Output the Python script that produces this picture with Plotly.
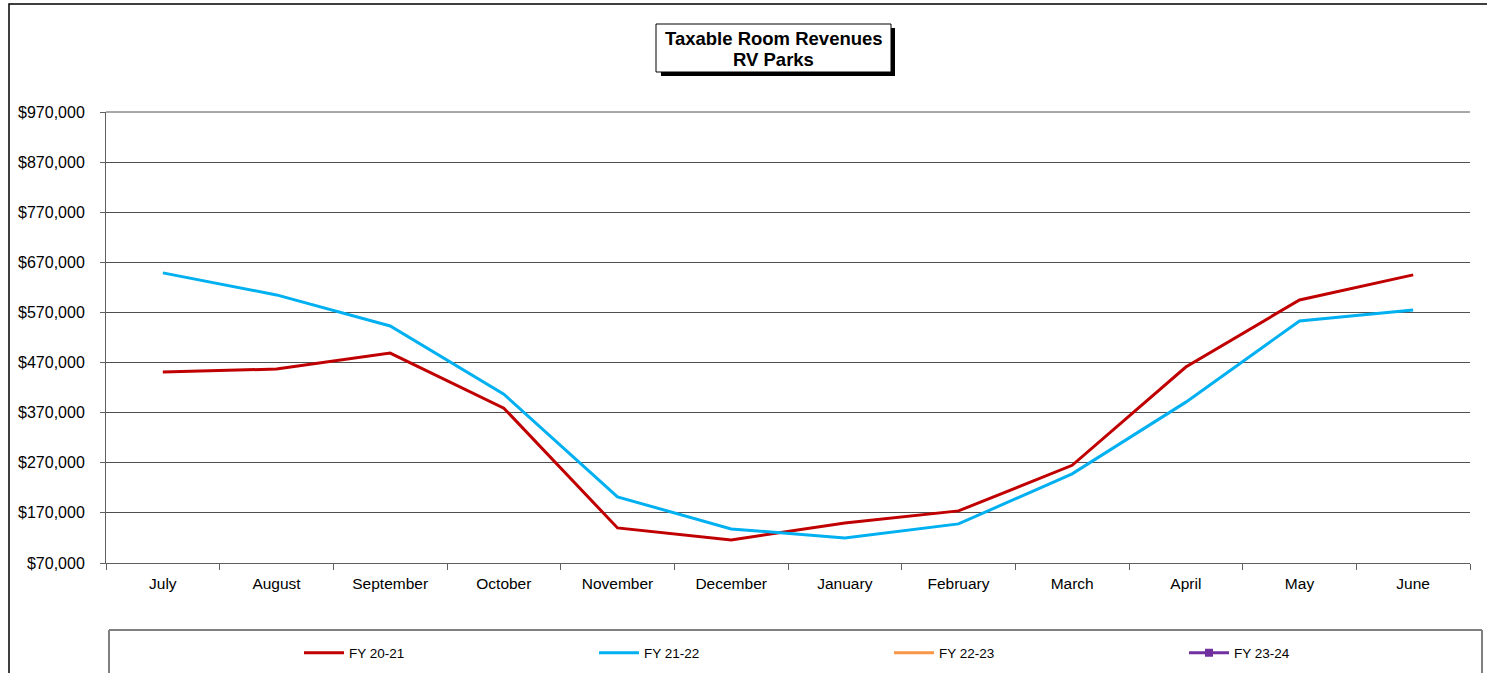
import plotly.graph_objects as go

months = ["July", "August", "September", "October", "November", "December",
          "January", "February", "March", "April", "May", "June"]
fy_20_21 = [451000, 457000, 489000, 379000, 140000, 116000,
            150000, 174000, 265000, 461000, 595000, 645000]
fy_21_22 = [649000, 605000, 543000, 407000, 202000, 138000,
            120000, 148000, 248000, 391000, 553000, 575000]
fy_22_23 = [None] * 12
fy_23_24 = [None] * 12
y_ticks = [70000, 170000, 270000, 370000, 470000, 570000, 670000, 770000, 870000, 970000]
y_tick_labels = ["$70,000", "$170,000", "$270,000", "$370,000", "$470,000",
                 "$570,000", "$670,000", "$770,000", "$870,000", "$970,000"]

W, H = 1487, 673
L, R, T, B = 106, 17, 112, 110
PW, PH = W - L - R, H - T - B

def px(x):
    return (x - L) / PW

def py(y):
    return (H - B - y) / PH

fig = go.Figure()
fig.add_trace(go.Scatter(x=months, y=fy_20_21, name="FY 20-21", mode="lines",
                         line=dict(color="#C00000", width=3)))
fig.add_trace(go.Scatter(x=months, y=fy_21_22, name="FY 21-22", mode="lines",
                         line=dict(color="#00B0F0", width=3)))
fig.add_trace(go.Scatter(x=months, y=fy_22_23, name="FY 22-23", mode="lines",
                         line=dict(color="#F79646", width=3)))
fig.add_trace(go.Scatter(x=months, y=fy_23_24, name="FY 23-24", mode="lines+markers",
                         line=dict(color="#7030A0", width=3),
                         marker=dict(symbol="square", size=8, color="#7030A0")))

shapes = []
# outer chart border
shapes.append(dict(type="rect", xref="paper", yref="paper",
                   x0=px(9), x1=px(1500), y0=py(4), y1=py(700),
                   line=dict(color="black", width=1.5), layer="below"))
# top gridline
shapes.append(dict(type="line", xref="paper", yref="paper",
                   x0=0, x1=1, y0=1, y1=1,
                   line=dict(color="#505050", width=1), layer="below"))
# title shadow and box
shapes.append(dict(type="rect", xref="paper", yref="paper",
                   x0=px(661), x1=px(895), y0=py(28), y1=py(76),
                   fillcolor="black", line=dict(width=0), layer="above"))
shapes.append(dict(type="rect", xref="paper", yref="paper",
                   x0=px(656), x1=px(891), y0=py(24), y1=py(72),
                   fillcolor="white", line=dict(color="black", width=1), layer="above"))
# legend box
shapes.append(dict(type="rect", xref="paper", yref="paper",
                   x0=px(109), x1=px(1482), y0=py(630), y1=py(700),
                   line=dict(color="black", width=1), layer="below"))
shapes.append(dict(type="line", xref="paper", yref="paper",
                   x0=px(109), x1=px(1482), y0=py(630), y1=py(630),
                   line=dict(color="#808080", width=2), layer="below"))

title_lines = ["<b>Taxable Room Revenues</b>", "<b>RV Parks</b>"]
title_y = [38, 59]
annotations = [dict(text=t, xref="paper", yref="paper", x=px(773.5), y=py(yy),
                    xanchor="center", yanchor="middle", showarrow=False,
                    font=dict(size=18.5, color="black"))
               for t, yy in zip(title_lines, title_y)]

fig.update_layout(
    width=W, height=H,
    margin=dict(l=L, r=R, t=T, b=B, autoexpand=False),
    paper_bgcolor="white", plot_bgcolor="white",
    font=dict(family="Liberation Sans, Arial, sans-serif", color="black", size=15),
    showlegend=True,
    legend=dict(orientation="h", x=px(299), xanchor="left", y=py(653), yanchor="middle",
                entrywidth=240, entrywidthmode="pixels", itemwidth=40,
                font=dict(size=13.5), bgcolor="rgba(0,0,0,0)", traceorder="normal"),
    shapes=shapes,
    annotations=annotations,
    hovermode=False,
)
fig.update_xaxes(type="category", range=[-0.5, 11.5], showgrid=False, showline=True,
                 linecolor="#606060", linewidth=1,
                 ticks="outside", tickson="boundaries", ticklen=6, tickcolor="#606060",
                 ticklabelstandoff=6, automargin=False,
                 tickfont=dict(size=15.5), fixedrange=True)
fig.update_yaxes(range=[70000, 970000], tickvals=y_ticks, ticktext=y_tick_labels,
                 showgrid=True, gridcolor="#505050", gridwidth=1, zeroline=False,
                 showline=True, linecolor="#606060", linewidth=1,
                 ticks="outside", ticklen=5, tickcolor="#606060", ticklabelstandoff=12,
                 automargin=False, tickfont=dict(size=16), fixedrange=True)

fig.write_html("out.html", config={"displayModeBar": False},
               post_script="document.body.style.margin='0';document.body.style.overflow='hidden';")
